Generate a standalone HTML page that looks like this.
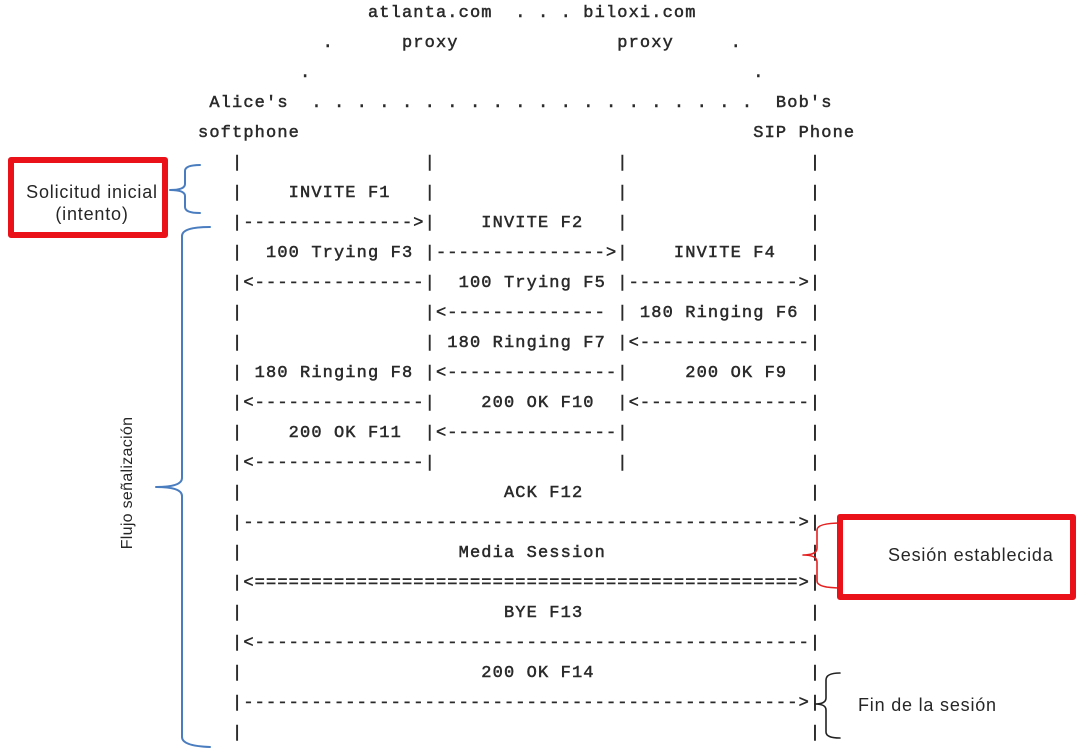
<!DOCTYPE html>
<html>
<head>
<meta charset="utf-8">
<style>
  html, body { margin:0; padding:0; }
  body { width:1078px; height:750px; background:#fff; position:relative; overflow:hidden; }
  pre.ascii {
    position:absolute; left:198px; top:-1.5px; margin:0;
    font-family:"Liberation Mono", "DejaVu Sans Mono", monospace;
    font-size:17px; line-height:30px; letter-spacing:1.13px;
    color:#2a2a2a; -webkit-text-stroke:0.5px #2a2a2a;
    white-space:pre;
  }
  .rbox { position:absolute; box-sizing:border-box; border:6px solid #ea1119; border-radius:3px; background:transparent; }
  .lbl { position:absolute; font-family:"Liberation Sans", sans-serif; font-size:18px; line-height:22px; letter-spacing:0.8px; color:#262626; white-space:nowrap; }
</style>
</head>
<body>
<pre class="ascii">               atlanta.com  . . . biloxi.com
           .      proxy              proxy     .
         .                                       .
 Alice's  . . . . . . . . . . . . . . . . . . . .  Bob's
softphone                                        SIP Phone
   |                |                |                |
   |    INVITE F1   |                |                |
   |--------------->|    INVITE F2   |                |
   |  100 Trying F3 |--------------->|    INVITE F4   |
   |<---------------|  100 Trying F5 |--------------->|
   |                |<-------------- | 180 Ringing F6 |
   |                | 180 Ringing F7 |<---------------|
   | 180 Ringing F8 |<---------------|     200 OK F9  |
   |<---------------|    200 OK F10  |<---------------|
   |    200 OK F11  |<---------------|                |
   |<---------------|                |                |
   |                       ACK F12                    |
   |------------------------------------------------->|
   |                   Media Session                  |
   |<================================================>|
   |                       BYE F13                    |
   |<-------------------------------------------------|
   |                     200 OK F14                   |
   |------------------------------------------------->|
   |                                                  |</pre>

<svg width="1078" height="750" style="position:absolute;left:0;top:0" xmlns="http://www.w3.org/2000/svg">
  <g fill="none" stroke-linecap="round" stroke-linejoin="round">
    <path d="M200,165 Q185,165 185,171 L185,184 Q185,190 170,190 Q185,190 185,196 L185,207 Q185,213 200,213" stroke="#4a7dc0" stroke-width="2"/>
    <path d="M210,227 Q182,227 182,236 L182,478 Q182,487 156,487 Q182,487 182,496 L182,737 Q182,746 210,747" stroke="#4a7dc0" stroke-width="2"/>
    <path d="M842,523 Q817,523 817,530 L817,548 Q817,555 803,555 Q817,555 817,562 L817,581 Q817,588 842,588" stroke="#e52020" stroke-width="1.6"/>
    <path d="M840,673 Q826,673 826,680 L826,698 Q826,704 815,704 Q826,704 826,710 L826,732 Q826,738 840,738" stroke="#222" stroke-width="1.6"/>
  </g>
</svg>

<div class="rbox" style="left:8px;top:157px;width:160px;height:81px;"></div>
<div class="lbl" style="left:12px;top:181px;width:160px;text-align:center;">Solicitud inicial<br>(intento)</div>

<div class="rbox" style="left:837px;top:514px;width:239px;height:86px;"></div>
<div class="lbl" style="left:888px;top:544px;">Sesión establecida</div>

<div class="lbl" style="left:858px;top:694px;">Fin de la sesión</div>

<div class="lbl" style="left:28px;top:472px;width:200px;height:22px;text-align:center;font-size:16px;letter-spacing:0.3px;transform:rotate(-90deg);transform-origin:100px 11px;">Flujo señalización</div>
</body>
</html>
